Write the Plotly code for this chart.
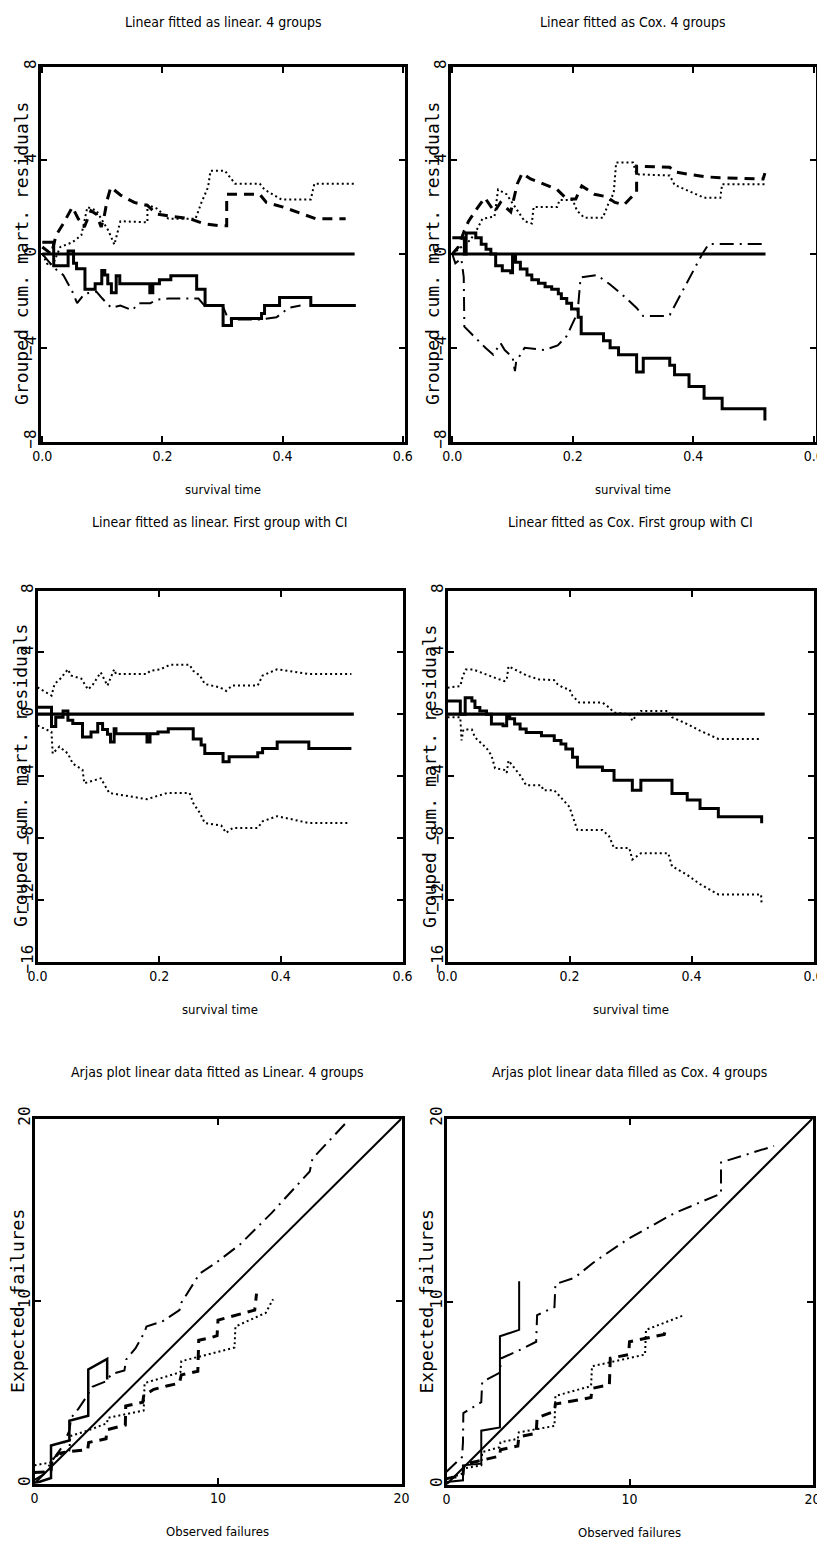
import plotly.graph_objects as go

# ---------------- Panel 1: Linear fitted as linear, 4 groups ----------------
P1_SOLID_X = [0, 0.019, 0.043, 0.052, 0.057, 0.071, 0.088, 0.099, 0.104, 0.109, 0.115, 0.123, 0.129, 0.179, 0.184,
              0.195, 0.214, 0.257, 0.271, 0.301, 0.315, 0.365, 0.370, 0.395, 0.447, 0.522]
P1_SOLID_Y = [0.5, -0.5, 0.13, -0.4, -0.63, -1.5, -1.27, -0.7, -0.9, -1.27, -1.65, -0.93, -1.27, -1.65, -1.27,
              -1.1, -0.93, -1.5, -2.2, -3.05, -2.75, -2.54, -2.2, -1.86, -2.2, -2.2]
P1_DASH_X = [0, 0.015, 0.023, 0.035, 0.05, 0.06, 0.07, 0.081, 0.09, 0.098, 0.103, 0.108, 0.114, 0.131, 0.153,
             0.175, 0.191, 0.219, 0.246, 0.268, 0.296, 0.307, 0.307, 0.362, 0.373, 0.401, 0.423, 0.445, 0.456, 0.505]
P1_DASH_Y = [0.3, 0.0, 0.8, 1.3, 2.0, 1.5, 1.15, 1.85, 1.7, 1.15, 1.6, 2.3, 2.85, 2.5, 2.2,
             2.07, 1.7, 1.6, 1.5, 1.3, 1.2, 1.2, 2.55, 2.55, 2.2, 2.0, 1.8, 1.6, 1.5, 1.5]
P1_DOT_X = [0, 0.01, 0.02, 0.03, 0.05, 0.065, 0.075, 0.09, 0.11, 0.12, 0.13, 0.175, 0.175, 0.19, 0.21, 0.255,
            0.265, 0.276, 0.28, 0.304, 0.321, 0.362, 0.370, 0.398, 0.447, 0.453, 0.519]
P1_DOT_Y = [0, -0.5, -0.3, 0.3, 0.5, 0.8, 2.0, 1.85, 1.0, 0.4, 1.4, 1.35, 2.1, 1.95, 1.5, 1.5,
            2.2, 2.85, 3.55, 3.55, 3.0, 3.0, 2.75, 2.33, 2.33, 3.0, 3.0]
P1_DASHDOT_X = [0, 0.01, 0.02, 0.035, 0.05, 0.058, 0.07, 0.09, 0.1, 0.115, 0.13, 0.15, 0.16, 0.18, 0.19, 0.21,
                0.26, 0.27, 0.30, 0.31, 0.36, 0.39, 0.41, 0.43]
P1_DASHDOT_Y = [0, -0.3, -0.6, -0.9, -1.6, -2.1, -1.7, -1.6, -1.9, -2.3, -2.2, -2.4, -2.1, -2.1, -1.95, -1.9,
                -1.9, -2.2, -2.2, -2.8, -2.8, -2.7, -2.3, -2.2]

# ---------------- Panel 2: Linear fitted as Cox, 4 groups ----------------
P2_SOLID_X = [0, 0.02, 0.023, 0.039, 0.048, 0.056, 0.064, 0.072, 0.083, 0.097, 0.100, 0.105, 0.113, 0.124, 0.132,
              0.143, 0.154, 0.165, 0.176, 0.181, 0.190, 0.198, 0.209, 0.214, 0.251, 0.262, 0.276, 0.306, 0.317,
              0.361, 0.369, 0.393, 0.418, 0.448, 0.519]
P2_SOLID_Y = [0.69, 0.0, 0.9, 0.69, 0.42, 0.2, 0.0, -0.5, -0.72, -0.8, -0.1, -0.35, -0.64, -0.9, -1.1,
              -1.25, -1.4, -1.5, -1.7, -1.9, -2.1, -2.35, -2.7, -3.4, -3.7, -4.0, -4.3, -5.03, -4.45,
              -4.75, -5.15, -5.65, -6.15, -6.6, -7.1]
P2_DASH_X = [0, 0.01, 0.02, 0.027, 0.04, 0.054, 0.07, 0.08, 0.097, 0.108, 0.116, 0.13, 0.15, 0.174, 0.19, 0.205,
             0.215, 0.236, 0.255, 0.27, 0.285, 0.3, 0.306, 0.306, 0.361, 0.369, 0.393, 0.418, 0.445, 0.516, 0.519]
P2_DASH_Y = [0, 0.3, 1.0, 1.4, 1.9, 2.4, 1.8, 2.2, 1.8, 3.0, 3.45, 3.2, 3.0, 2.75, 2.35, 2.35,
             2.9, 2.55, 2.45, 2.2, 2.1, 2.5, 2.6, 3.75, 3.7, 3.5, 3.4, 3.3, 3.25, 3.2, 3.45]
P2_DOT_X = [0, 0.015, 0.03, 0.04, 0.05, 0.07, 0.076, 0.09, 0.105, 0.12, 0.132, 0.135, 0.174, 0.178, 0.2, 0.207,
            0.219, 0.25, 0.26, 0.268, 0.272, 0.3, 0.306, 0.361, 0.369, 0.393, 0.418, 0.445, 0.448, 0.519]
P2_DOT_Y = [0, 0.3, 0.6, 1.0, 1.5, 1.6, 2.75, 2.55, 2.0, 1.4, 1.3, 2.0, 2.0, 2.3, 2.3, 1.85,
            1.55, 1.55, 2.2, 2.6, 3.9, 3.9, 3.4, 3.35, 2.95, 2.67, 2.4, 2.4, 2.98, 2.98]
P2_DASHDOT_X = [0, 0.005, 0.015, 0.019, 0.02, 0.035, 0.044, 0.055, 0.068, 0.08, 0.087, 0.1, 0.104, 0.106, 0.12,
                0.153, 0.175, 0.19, 0.208, 0.213, 0.24, 0.262, 0.285, 0.306, 0.317, 0.355, 0.361, 0.415, 0.426,
                0.516]
P2_DASHDOT_Y = [0, -0.4, -0.2, -1.0, -3.1, -3.5, -3.7, -4.0, -4.3, -3.8, -4.1, -4.4, -5.0, -4.6, -4.0,
                -4.1, -3.9, -3.5, -2.5, -1.0, -0.9, -1.3, -1.8, -2.3, -2.65, -2.65, -2.6, 0.0, 0.43,
                0.43]

# ---------------- Panel 3: Linear fitted as linear, first group with CI ----------------
P3_SOLID_X = [0, 0.023, 0.03, 0.042, 0.050, 0.058, 0.074, 0.088, 0.099, 0.107, 0.115, 0.12, 0.126, 0.129, 0.177,
              0.18, 0.185, 0.198, 0.215, 0.256, 0.269, 0.275, 0.305, 0.315, 0.362, 0.370, 0.394, 0.446, 0.516]
P3_SOLID_Y = [0.45, -0.8, -0.2, 0.2, -0.4, -0.6, -1.48, -1.15, -0.6, -1.0, -1.3, -1.8, -0.95, -1.26, -1.26,
              -1.8, -1.26, -1.15, -0.95, -1.6, -2.0, -2.55, -3.08, -2.76, -2.5, -2.22, -1.8, -2.22, -2.22]
P3_UP_X = [0, 0.023, 0.028, 0.037, 0.05, 0.055, 0.072, 0.083, 0.09, 0.104, 0.115, 0.126, 0.129, 0.18, 0.185,
           0.202, 0.218, 0.25, 0.256, 0.267, 0.275, 0.3, 0.31, 0.32, 0.362, 0.37, 0.394, 0.446, 0.516]
P3_UP_Y = [1.73, 1.2, 1.95, 2.27, 2.9, 2.5, 2.3, 1.6, 1.85, 2.7, 1.85, 2.9, 2.6, 2.6, 2.8,
           2.9, 3.2, 3.2, 2.8, 2.5, 1.95, 1.73, 1.5, 1.85, 1.85, 2.5, 2.9, 2.6, 2.6]
P3_LO_X = [0, 0.023, 0.025, 0.036, 0.05, 0.058, 0.074, 0.077, 0.104, 0.118, 0.18, 0.213, 0.25, 0.256, 0.267,
           0.275, 0.302, 0.31, 0.321, 0.362, 0.37, 0.394, 0.446, 0.513]
P3_LO_Y = [-0.73, -1.15, -2.55, -2.1, -2.55, -3.2, -3.6, -4.47, -4.15, -5.1, -5.5, -5.1, -5.1, -5.75, -6.4,
           -7.04, -7.2, -7.68, -7.36, -7.36, -6.93, -6.6, -7.04, -7.04]

# ---------------- Panel 4: Linear fitted as Cox, first group with CI ----------------
P4_SOLID_X = [0, 0.021, 0.029, 0.040, 0.045, 0.053, 0.064, 0.072, 0.091, 0.097, 0.102, 0.110, 0.119, 0.129,
              0.154, 0.175, 0.186, 0.194, 0.205, 0.213, 0.254, 0.273, 0.303, 0.317, 0.368, 0.393, 0.414, 0.444,
              0.515]
P4_SOLID_Y = [0.85, 0.0, 1.07, 0.85, 0.43, 0.2, 0.0, -0.64, -0.75, -0.1, -0.3, -0.64, -0.96, -1.18,
              -1.4, -1.7, -1.93, -2.25, -2.78, -3.42, -3.64, -4.28, -4.92, -4.28, -5.13, -5.56, -6.1, -6.63,
              -7.06]
P4_UP_X = [0, 0.021, 0.025, 0.03, 0.042, 0.06, 0.078, 0.093, 0.097, 0.1, 0.13, 0.15, 0.175, 0.18, 0.19, 0.2,
           0.205, 0.216, 0.254, 0.265, 0.273, 0.298, 0.303, 0.311, 0.317, 0.362, 0.368, 0.393, 0.414, 0.444, 0.515]
P4_UP_Y = [1.71, 1.82, 2.46, 2.89, 2.89, 2.6, 2.35, 2.14, 2.2, 3.1, 2.5, 2.25, 2.2, 1.95, 1.7, 1.6,
           1.18, 0.75, 0.75, 0.43, 0.1, 0.0, -0.43, 0.0, 0.21, 0.21, -0.2, -0.64, -1.07, -1.6, -1.6]
P4_LO_X = [0, 0.021, 0.023, 0.026, 0.04, 0.045, 0.064, 0.072, 0.078, 0.093, 0.097, 0.1, 0.12, 0.129, 0.154,
           0.157, 0.175, 0.19, 0.2, 0.205, 0.213, 0.254, 0.265, 0.273, 0.298, 0.303, 0.317, 0.362, 0.368,
           0.393, 0.414, 0.444, 0.514, 0.515]
P4_LO_Y = [-0.2, -0.2, -1.7, -1.0, -1.0, -1.5, -2.2, -2.67, -3.5, -3.6, -3.8, -3.0, -4.0, -4.6, -4.6,
           -4.92, -4.92, -5.6, -6.0, -6.6, -7.5, -7.5, -7.9, -8.66, -8.66, -9.4, -9.0, -9.0, -9.84,
           -10.4, -11.0, -11.66, -11.66, -12.3]

ZERO_X = [0, 0.52]
ZERO_Y = [0, 0]

# ---------------- Panel 5: Arjas plot, linear fitted as linear ----------------
P5_SOLID_X = [0, 0.9, 0.9, 1.9, 1.9, 2.93, 2.93, 3.96, 3.96]
P5_SOLID_Y = [0, 0.3, 2.08, 2.36, 3.44, 3.71, 6.25, 6.83, 5.7]
P5_DASH_X = [0, 0.9, 0.95, 1.3, 1.9, 2.9, 2.95, 3.9, 3.95, 4.95, 4.97, 5.9, 5.95, 6.5, 7.2, 7.9, 8.0, 8.5, 8.9,
             8.95, 9.55, 9.95, 10.0, 12.0, 12.1]
P5_DASH_Y = [0.6, 0.65, 1.2, 1.65, 1.75, 1.85, 2.25, 2.45, 2.95, 3.2, 4.25, 4.45, 4.8, 5.16, 5.34, 5.5, 5.95, 6.07,
             6.15, 7.85, 7.97, 8.1, 8.95, 9.5, 10.4]
P5_DOT_X = [0, 0.9, 0.95, 1.9, 1.95, 2.9, 3.95, 4.0, 5.95, 6.0, 7.95, 8.0, 10.9, 10.95, 12.6, 13.0]
P5_DOT_Y = [1.0, 1.15, 1.4, 1.8, 2.6, 2.9, 3.3, 3.6, 4.0, 5.5, 6.1, 6.7, 7.45, 8.6, 9.35, 10.1]
P5_DASHDOT_X = [0, 0.5, 1.0, 1.5, 1.9, 2.0, 2.4, 2.8, 3.15, 3.9, 4.2, 4.9, 5.0, 5.5, 6.0, 6.1, 7.0, 7.9, 8.0,
                9.0, 9.9, 11.2, 12.9, 15.0, 15.15, 17.1]
P5_DASHDOT_Y = [0.2, 0.5, 1.3, 2.0, 2.9, 3.6, 4.1, 4.7, 5.3, 5.6, 6.0, 6.2, 6.8, 7.4, 8.3, 8.6, 8.9, 9.5, 9.9,
                11.5, 12.1, 13.1, 14.8, 17.1, 17.8, 19.9]

# ---------------- Panel 6: Arjas plot, linear fitted as Cox ----------------
P6_SOLID_X = [0, 0.9, 0.9, 1.9, 1.9, 2.92, 2.92, 3.97, 3.97]
P6_SOLID_Y = [0.14, 0.23, 1.05, 1.14, 2.94, 3.12, 8.1, 8.45, 11.1]
P6_DASH_X = [0, 0.9, 0.95, 1.9, 2.9, 2.95, 3.9, 3.95, 4.9, 4.95, 5.9, 5.95, 7.9, 7.95, 8.9, 8.95, 9.95, 10.0,
             11.9, 12.0]
P6_DASH_Y = [0.32, 0.5, 1.1, 1.32, 1.55, 1.9, 2.1, 2.6, 2.8, 3.65, 4.0, 4.4, 4.75, 5.25, 5.45, 6.9, 7.1, 7.8,
             8.2, 8.65]
P6_DOT_X = [0, 0.9, 0.92, 1.9, 1.95, 2.9, 2.95, 3.9, 3.95, 5.9, 5.95, 7.9, 7.95, 10.85, 10.9, 13.0]
P6_DOT_Y = [0.3, 0.6, 0.87, 1.05, 1.77, 2.04, 2.31, 2.5, 2.85, 3.2, 4.84, 5.38, 6.46, 7.1, 8.45, 9.26]
P6_DASHDOT_X = [0, 0.85, 0.9, 0.92, 1.9, 1.95, 2.9, 3.0, 3.9, 4.9, 4.95, 5.9, 5.95, 7.0, 8.0, 8.2, 9.9, 12.4,
                15.0, 15.0, 17.9]
P6_DASHDOT_Y = [0.7, 1.5, 2.3, 3.9, 4.5, 5.6, 6.1, 6.9, 7.3, 7.8, 9.25, 9.7, 10.95, 11.3, 12.1, 12.25, 13.4, 14.8,
                15.9, 17.6, 18.5]

DIAG_X = [0, 20]
DIAG_Y = [0, 20]

TITLES = ["Linear fitted as linear. 4 groups",
          "Linear fitted as Cox. 4 groups",
          "Linear fitted as linear. First group with CI",
          "Linear fitted as Cox. First group with CI",
          "Arjas plot linear data fitted as Linear. 4 groups",
          "Arjas plot linear data filled as Cox. 4 groups"]
X_TITLES = ["survival time", "survival time", "survival time", "survival time",
            "Observed failures", "Observed failures"]
Y_TITLES = ["Grouped cum. mart. residuals"] * 4 + ["Expected failures"] * 2

TIME_TICKS = [0, 0.2, 0.4, 0.6]
TIME_TICKTEXT = ["0.0", "0.2", "0.4", "0.6"]
RES_TICKS_TOP = [-8, -4, 0, 4, 8]
RES_TICKTEXT_TOP = ["\u22128", "\u22124", "0", "4", "8"]
RES_TICKS_MID = [-16, -12, -8, -4, 0, 4, 8]
RES_TICKTEXT_MID = ["\u221216", "\u221212", "\u22128", "\u22124", "0", "4", "8"]
FAIL_TICKS = [0, 10, 20]
FAIL_TICKTEXT = ["0", "10", "20"]

# ---------------- layout geometry (screen pixels) ----------------
W, H = 825, 1544
OFF = 8      # default page body margin
LW = 3       # frame line width
# (left, right, top, bottom) of each frame line on screen
FRAMES = [(39, 406, 65, 443), (449, 817, 65, 443),
          (36, 404, 589, 963), (446, 815, 589, 963),
          (33, 403, 1117, 1485), (445, 814, 1117, 1486)]
YTITLE_CX = [21, 432, 20, 429, 17, 426]
YTITLE_SIZE = [18, 18, 18, 18, 18, 18]

NARROW = "Liberation Sans Narrow, DejaVu Sans Condensed, Arial Narrow, sans-serif"
MONO = "DejaVu Sans Mono, Liberation Mono, monospace"


def px_x(p):
    return (p - OFF) / W


def px_y(p):
    return 1 - (p - OFF) / H


fig = go.Figure()


def add(ax, xs, ys, dash, width, shape="linear"):
    fig.add_trace(go.Scatter(x=xs, y=ys, mode="lines", xaxis="x" + ax, yaxis="y" + ax,
                             line=dict(color="black", width=width, dash=dash, shape=shape),
                             showlegend=False, hoverinfo="skip"))


DASH = "10px,7px"
DOT = "2px,3px"
DASHDOT = "14px,6px,2px,6px"

# panel 1
add("", ZERO_X, ZERO_Y, "solid", 3.2)
add("", P1_DOT_X, P1_DOT_Y, DOT, 2)
add("", P1_DASH_X, P1_DASH_Y, DASH, 3)
add("", P1_DASHDOT_X, P1_DASHDOT_Y, DASHDOT, 2)
add("", P1_SOLID_X, P1_SOLID_Y, "solid", 3, "hv")
# panel 2
add("2", ZERO_X, ZERO_Y, "solid", 3.2)
add("2", P2_DOT_X, P2_DOT_Y, DOT, 2)
add("2", P2_DASH_X, P2_DASH_Y, DASH, 3)
add("2", P2_DASHDOT_X, P2_DASHDOT_Y, DASHDOT, 2)
add("2", P2_SOLID_X, P2_SOLID_Y, "solid", 3, "hv")
# panel 3
add("3", ZERO_X, ZERO_Y, "solid", 3.2)
add("3", P3_UP_X, P3_UP_Y, DOT, 2)
add("3", P3_LO_X, P3_LO_Y, DOT, 2)
add("3", P3_SOLID_X, P3_SOLID_Y, "solid", 3, "hv")
# panel 4
add("4", ZERO_X, ZERO_Y, "solid", 3.2)
add("4", P4_UP_X, P4_UP_Y, DOT, 2)
add("4", P4_LO_X, P4_LO_Y, DOT, 2)
add("4", P4_SOLID_X, P4_SOLID_Y, "solid", 3, "hv")
# panel 5
add("5", DIAG_X, DIAG_Y, "solid", 2)
add("5", P5_DOT_X, P5_DOT_Y, DOT, 2)
add("5", P5_DASH_X, P5_DASH_Y, DASH, 3)
add("5", P5_DASHDOT_X, P5_DASHDOT_Y, DASHDOT, 2)
add("5", P5_SOLID_X, P5_SOLID_Y, "solid", 2.5)
# panel 6
add("6", DIAG_X, DIAG_Y, "solid", 2)
add("6", P6_DOT_X, P6_DOT_Y, DOT, 2)
add("6", P6_DASH_X, P6_DASH_Y, DASH, 3)
add("6", P6_DASHDOT_X, P6_DASHDOT_Y, DASHDOT, 2)
add("6", P6_SOLID_X, P6_SOLID_Y, "solid", 2)

common = dict(showline=True, linewidth=LW, linecolor="black", mirror="ticks", ticks="inside",
              ticklen=6, tickwidth=1.5, tickcolor="black", showgrid=False, zeroline=False,
              fixedrange=True, automargin=False, ticklabeloverflow="allow")

layout = dict(template="none", width=W, height=H, margin=dict(l=0, r=0, t=0, b=0, autoexpand=False),
              paper_bgcolor="white", plot_bgcolor="white", showlegend=False)

annotations = []
for i, (l, r, t, b) in enumerate(FRAMES):
    n = "" if i == 0 else str(i + 1)
    xd = [px_x(l + LW / 2), px_x(r - LW / 2)]
    yd = [px_y(b - LW / 2), px_y(t + LW / 2)]
    if i < 4:
        xr = [-0.003, 0.603] if i < 2 else [0, 0.6]
        xt, xtt = TIME_TICKS, TIME_TICKTEXT
        if i < 2:
            yr, yt, ytt = [-8, 8], RES_TICKS_TOP, RES_TICKTEXT_TOP
        else:
            yr, yt, ytt = [-16, 8], RES_TICKS_MID, RES_TICKTEXT_MID
    else:
        xr, xt, xtt = [0, 20], FAIL_TICKS, FAIL_TICKTEXT
        yr, yt, ytt = [0, 20], FAIL_TICKS, FAIL_TICKTEXT
    layout["xaxis" + n] = dict(common, domain=xd, anchor="y" + n, range=xr, tickvals=xt, ticktext=xtt,
                               tickfont=dict(family=NARROW, size=14, color="black"))
    layout["yaxis" + n] = dict(common, domain=yd, anchor="x" + n, range=yr, tickvals=yt, ticktext=ytt,
                               tickangle=-90, ticklabelstandoff=-5,
                               tickfont=dict(family=MONO, size=16, color="black"))
    cx = (l + r) / 2
    cy = (t + b) / 2
    title_y = t - 43 if i < 2 else t - 67 if i < 4 else t - 45
    annotations.append(dict(text=TITLES[i], x=px_x(cx), y=px_y(title_y), xref="paper", yref="paper",
                            showarrow=False, xanchor="center", yanchor="middle",
                            font=dict(family=NARROW, size=14, color="black")))
    annotations.append(dict(text=X_TITLES[i], x=px_x(cx), y=px_y(b + 46), xref="paper", yref="paper",
                            showarrow=False, xanchor="center", yanchor="middle",
                            font=dict(family=NARROW, size=13, color="black")))
    annotations.append(dict(text=Y_TITLES[i], x=px_x(YTITLE_CX[i]), y=px_y(cy), xref="paper", yref="paper",
                            showarrow=False, xanchor="center", yanchor="middle", textangle=-90,
                            font=dict(family=MONO, size=YTITLE_SIZE[i], color="black")))

layout["annotations"] = annotations
fig.update_layout(**layout)
fig.write_html("out.html")
